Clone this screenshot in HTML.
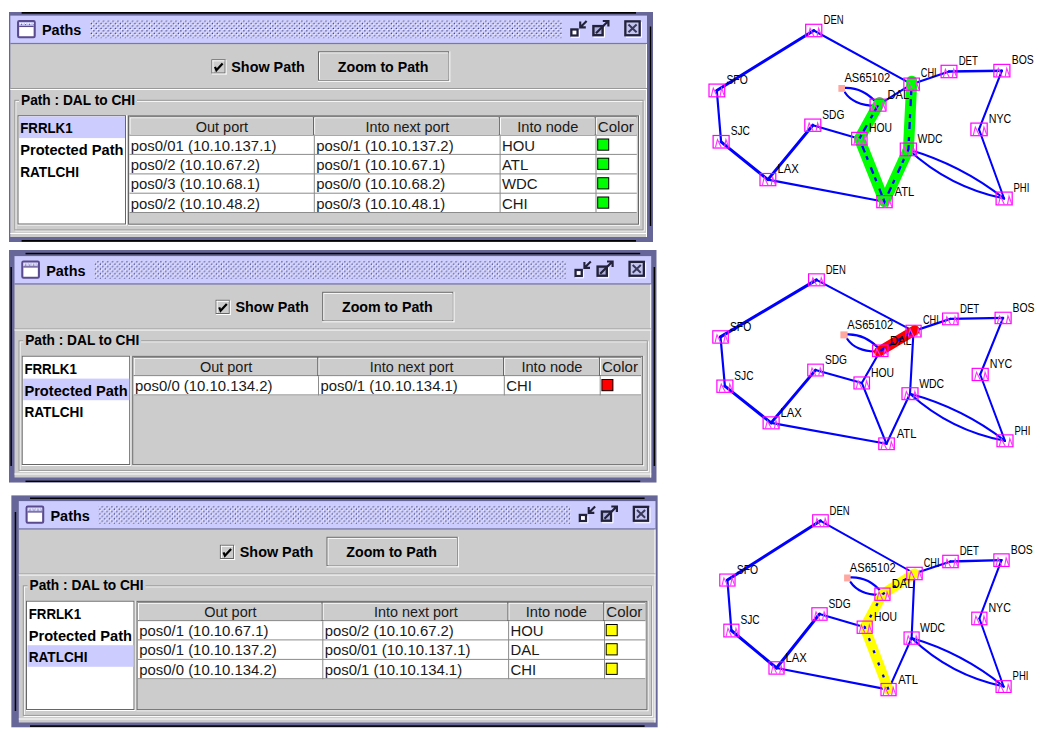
<!DOCTYPE html>
<html><head><meta charset="utf-8"><title>Paths</title><style>html,body{margin:0;padding:0;background:#fff;width:1038px;height:734px;overflow:hidden}svg{display:block;font-family:"Liberation Sans", sans-serif}</style></head><body>
<svg width="1038" height="734" viewBox="0 0 1038 734">
<defs><pattern id="bumps" patternUnits="userSpaceOnUse" width="4.84" height="4.84"><rect width="4.84" height="4.84" fill="#ccccff"/><rect x="0" y="0" width="1.21" height="1.21" fill="#ffffff"/><rect x="2.42" y="2.42" width="1.21" height="1.21" fill="#ffffff"/><rect x="1.21" y="1.21" width="1.21" height="1.21" fill="#333366"/><rect x="3.63" y="3.63" width="1.21" height="1.21" fill="#333366"/></pattern><g id="node"><rect x="0.6" y="0.6" width="15.8" height="12.8" fill="none" stroke="#ff00ff" stroke-width="1.2"/><path d="M3 12.8 L4.1 7.8 L4.9 4.7 L8.7 12.9 M11.8 12.8 L13.3 4.7 L15.9 12.2" fill="none" stroke="#ff33ff" stroke-width="1.1"/></g></defs>
<clipPath id="clip0"><rect x="9" y="11.9" width="644" height="230.1"/></clipPath>
<g clip-path="url(#clip0)">
<rect x="9.00" y="11.90" width="644.00" height="230.10" fill="#666699" />
<g transform="translate(0,0)">
<rect x="10.30" y="43.00" width="636.70" height="194.00" fill="#cccccc" />
<rect x="10.30" y="15.60" width="636.70" height="27.40" fill="#ccccff" />
<rect x="10.30" y="42.90" width="636.70" height="1.20" fill="#7777aa" />
<rect x="10.30" y="233.00" width="636.70" height="1.00" fill="#ffffff" />
<rect x="646.00" y="44.00" width="1.00" height="193.00" fill="#ffffff" />
<rect x="18.1" y="21.1" width="16.6" height="16.1" rx="1.2" fill="#ffffff" stroke="#5a4a8e" stroke-width="2.1"/>
<rect x="19.10" y="22.10" width="14.60" height="3.60" fill="#c4c4ee" />
<line x1="19.700000000000003" y1="23.5" x2="33.5" y2="23.5" stroke="#ffffff" stroke-width="1.1" stroke-dasharray="1.3 1.3"/>
<line x1="21.0" y1="24.6" x2="33.5" y2="24.6" stroke="#6a5aa0" stroke-width="1" stroke-dasharray="1 3"/>
<rect x="19.10" y="25.75" width="14.60" height="1.30" fill="#5a4a8e" />
<text x="42.00" y="35.20" font-size="14.5" font-weight="bold" text-anchor="start" fill="#000" textLength="39.30" lengthAdjust="spacingAndGlyphs" >Paths</text>
<rect x="90" y="20.2" width="472" height="18" fill="url(#bumps)"/>
<g fill="none" stroke="#22223a" stroke-width="2.3"><rect x="571.35" y="29.45" width="6.2" height="6.1" fill="#ffffff"/><path d="M580.2 21.6 V27.4 H585.8 M580.6 27 L586.6 20.9" stroke-width="2.1"/></g>
<path d="M571 37.3 H579.4 V30" fill="none" stroke="#ffffff" stroke-width="1"/>
<g fill="none" stroke="#22223a" stroke-width="2.4"><rect x="593.4" y="26.1" width="9.2" height="9.1" fill="#b0b0e0"/><path d="M596 33.2 L608 21.2 M602.8 21 H608.4 V26.4" stroke-width="2.2"/></g>
<path d="M593.5 37.3 H604.5 V27" fill="none" stroke="#ffffff" stroke-width="1"/>
<g fill="none" stroke="#22223a" stroke-width="2.3"><rect x="625.35" y="21.35" width="14.3" height="13.9" fill="#c4c4f0"/><path d="M628.5 24.5 L636.6 32.2 M636.6 24.5 L628.5 32.2" stroke="#3a3a5c" stroke-width="2"/></g>
<path d="M626 37.3 H641.5 V22" fill="none" stroke="#ffffff" stroke-width="1"/>
<rect x="211.40" y="59.30" width="14.20" height="14.20" fill="#666666" />
<rect x="212.40" y="60.30" width="12.20" height="12.20" fill="#cccccc" />
<rect x="212.40" y="60.30" width="12.20" height="1.00" fill="#ffffff" />
<rect x="212.40" y="60.30" width="1.00" height="12.20" fill="#ffffff" />
<rect x="211.90" y="73.50" width="14.70" height="1.00" fill="#ffffff" />
<rect x="225.60" y="60.00" width="1.00" height="14.50" fill="#ffffff" />
<path d="M215 66.8 L216.4 70.2 L222.6 63.4" fill="none" stroke="#000" stroke-width="2.2"/>
<text x="231.30" y="71.80" font-size="14.5" font-weight="bold" text-anchor="start" fill="#000" textLength="73.40" lengthAdjust="spacingAndGlyphs" >Show Path</text>
<rect x="318.00" y="51.30" width="131.30" height="29.50" fill="#666666" />
<rect x="319.00" y="52.30" width="129.30" height="27.50" fill="#ffffff" />
<rect x="320.00" y="53.30" width="128.30" height="26.50" fill="#cccccc" />
<rect x="318.00" y="80.80" width="132.30" height="1.00" fill="#ffffff" />
<rect x="449.30" y="51.30" width="1.00" height="30.50" fill="#ffffff" />
<text x="337.80" y="71.60" font-size="14.5" font-weight="bold" text-anchor="start" fill="#000" textLength="90.70" lengthAdjust="spacingAndGlyphs" >Zoom to Path</text>
<rect x="10.30" y="88.00" width="636.70" height="1.00" fill="#999999" />
<rect x="10.30" y="89.00" width="636.70" height="1.00" fill="#ffffff" />
<rect x="15.8" y="101.3" width="628.3000000000001" height="129.60000000000002" fill="none" stroke="#ffffff" stroke-width="1"/>
<rect x="14.8" y="100.3" width="628.3000000000001" height="129.60000000000002" fill="none" stroke="#999999" stroke-width="1"/>
<rect x="19.00" y="93.00" width="118.00" height="13.00" fill="#cccccc" />
<text x="21.00" y="104.90" font-size="14.5" font-weight="bold" text-anchor="start" fill="#000" textLength="114.00" lengthAdjust="spacingAndGlyphs" >Path : DAL to CHI</text>
<rect x="17.50" y="115.20" width="109.50" height="110.30" fill="#ffffff" />
<rect x="17.50" y="115.20" width="108.50" height="109.30" fill="#666666" />
<rect x="18.50" y="116.20" width="106.50" height="107.30" fill="#ffffff" />
<rect x="19.00" y="116.50" width="106.00" height="21.60" fill="#ccccff" />
<text x="20.20" y="133.40" font-size="14.5" font-weight="bold" text-anchor="start" fill="#000" textLength="52.40" lengthAdjust="spacingAndGlyphs" >FRRLK1</text>
<text x="20.20" y="155.00" font-size="14.5" font-weight="bold" text-anchor="start" fill="#000" textLength="103.30" lengthAdjust="spacingAndGlyphs" >Protected Path</text>
<text x="20.20" y="176.60" font-size="14.5" font-weight="bold" text-anchor="start" fill="#000" textLength="58.80" lengthAdjust="spacingAndGlyphs" >RATLCHI</text>
<rect x="128.00" y="115.30" width="512.00" height="110.40" fill="#ffffff" />
<rect x="128.00" y="115.30" width="511.00" height="109.40" fill="#666666" />
<rect x="129.00" y="116.30" width="509.00" height="107.40" fill="#cccccc" />
<rect x="129.50" y="116.40" width="507.30" height="19.30" fill="#666666" />
<rect x="129.50" y="117.20" width="183.40" height="17.50" fill="#ffffff" />
<rect x="130.50" y="118.20" width="182.40" height="16.50" fill="#cccccc" />
<text x="195.70" y="131.50" font-size="14.5" font-weight="normal" text-anchor="start" fill="#1a1a1a" textLength="52.40" lengthAdjust="spacingAndGlyphs" >Out port</text>
<rect x="314.10" y="117.20" width="184.60" height="17.50" fill="#ffffff" />
<rect x="315.10" y="118.20" width="183.60" height="16.50" fill="#cccccc" />
<text x="365.50" y="131.50" font-size="14.5" font-weight="normal" text-anchor="start" fill="#1a1a1a" textLength="83.80" lengthAdjust="spacingAndGlyphs" >Into next port</text>
<rect x="499.90" y="117.20" width="94.70" height="17.50" fill="#ffffff" />
<rect x="500.90" y="118.20" width="93.70" height="16.50" fill="#cccccc" />
<text x="517.20" y="131.50" font-size="14.5" font-weight="normal" text-anchor="start" fill="#1a1a1a" textLength="61.10" lengthAdjust="spacingAndGlyphs" >Into node</text>
<rect x="595.80" y="117.20" width="40.80" height="17.50" fill="#ffffff" />
<rect x="596.80" y="118.20" width="39.80" height="16.50" fill="#cccccc" />
<text x="597.80" y="131.50" font-size="14.5" font-weight="normal" text-anchor="start" fill="#1a1a1a" textLength="36.00" lengthAdjust="spacingAndGlyphs" >Color</text>
<rect x="129.50" y="135.70" width="507.30" height="77.30" fill="#ffffff" />
<rect x="129.50" y="153.90" width="507.30" height="1.00" fill="#8c8c8c" />
<text x="130.80" y="150.50" font-size="14.9" font-weight="normal" text-anchor="start" fill="#1a1a1a" >pos0/01 (10.10.137.1)</text>
<text x="316.20" y="150.50" font-size="14.9" font-weight="normal" text-anchor="start" fill="#1a1a1a" >pos0/1 (10.10.137.2)</text>
<text x="502.00" y="150.50" font-size="14.9" font-weight="normal" text-anchor="start" fill="#1a1a1a" >HOU</text>
<rect x="597.20" y="138.50" width="12.00" height="12.20" fill="#000" />
<rect x="598.20" y="139.50" width="10.00" height="10.20" fill="#00ff00" />
<rect x="129.50" y="173.40" width="507.30" height="1.00" fill="#8c8c8c" />
<text x="130.80" y="169.70" font-size="14.9" font-weight="normal" text-anchor="start" fill="#1a1a1a" >pos0/2 (10.10.67.2)</text>
<text x="316.20" y="169.70" font-size="14.9" font-weight="normal" text-anchor="start" fill="#1a1a1a" >pos0/1 (10.10.67.1)</text>
<text x="502.00" y="169.70" font-size="14.9" font-weight="normal" text-anchor="start" fill="#1a1a1a" >ATL</text>
<rect x="597.20" y="157.70" width="12.00" height="12.20" fill="#000" />
<rect x="598.20" y="158.70" width="10.00" height="10.20" fill="#00ff00" />
<rect x="129.50" y="192.70" width="507.30" height="1.00" fill="#8c8c8c" />
<text x="130.80" y="189.20" font-size="14.9" font-weight="normal" text-anchor="start" fill="#1a1a1a" >pos0/3 (10.10.68.1)</text>
<text x="316.20" y="189.20" font-size="14.9" font-weight="normal" text-anchor="start" fill="#1a1a1a" >pos0/0 (10.10.68.2)</text>
<text x="502.00" y="189.20" font-size="14.9" font-weight="normal" text-anchor="start" fill="#1a1a1a" >WDC</text>
<rect x="597.20" y="177.20" width="12.00" height="12.20" fill="#000" />
<rect x="598.20" y="178.20" width="10.00" height="10.20" fill="#00ff00" />
<rect x="129.50" y="212.00" width="507.30" height="1.00" fill="#8c8c8c" />
<text x="130.80" y="208.50" font-size="14.9" font-weight="normal" text-anchor="start" fill="#1a1a1a" >pos0/2 (10.10.48.2)</text>
<text x="316.20" y="208.50" font-size="14.9" font-weight="normal" text-anchor="start" fill="#1a1a1a" >pos0/3 (10.10.48.1)</text>
<text x="502.00" y="208.50" font-size="14.9" font-weight="normal" text-anchor="start" fill="#1a1a1a" >CHI</text>
<rect x="597.20" y="196.50" width="12.00" height="12.20" fill="#000" />
<rect x="598.20" y="197.50" width="10.00" height="10.20" fill="#00ff00" />
<rect x="313.80" y="135.70" width="1.00" height="77.30" fill="#8c8c8c" />
<rect x="499.60" y="135.70" width="1.00" height="77.30" fill="#8c8c8c" />
<rect x="595.50" y="135.70" width="1.00" height="77.30" fill="#8c8c8c" />
</g>
<rect x="21.60" y="11.90" width="614.40" height="1.80" fill="#000000" />
<rect x="649.80" y="26.50" width="1.40" height="199.50" fill="#000000" />
<rect x="21.60" y="240.00" width="614.40" height="1.70" fill="#000000" />
</g>
<clipPath id="clip240"><rect x="9" y="250" width="647.7" height="232.7"/></clipPath>
<g clip-path="url(#clip240)">
<rect x="9.00" y="250.00" width="647.70" height="232.70" fill="#666699" />
<g transform="translate(4.2,240.5)">
<rect x="10.30" y="43.00" width="636.70" height="194.00" fill="#cccccc" />
<rect x="10.30" y="15.60" width="636.70" height="27.40" fill="#ccccff" />
<rect x="10.30" y="42.90" width="636.70" height="1.20" fill="#7777aa" />
<rect x="10.30" y="233.00" width="636.70" height="1.00" fill="#ffffff" />
<rect x="646.00" y="44.00" width="1.00" height="193.00" fill="#ffffff" />
<rect x="18.1" y="21.1" width="16.6" height="16.1" rx="1.2" fill="#ffffff" stroke="#5a4a8e" stroke-width="2.1"/>
<rect x="19.10" y="22.10" width="14.60" height="3.60" fill="#c4c4ee" />
<line x1="19.700000000000003" y1="23.5" x2="33.5" y2="23.5" stroke="#ffffff" stroke-width="1.1" stroke-dasharray="1.3 1.3"/>
<line x1="21.0" y1="24.6" x2="33.5" y2="24.6" stroke="#6a5aa0" stroke-width="1" stroke-dasharray="1 3"/>
<rect x="19.10" y="25.75" width="14.60" height="1.30" fill="#5a4a8e" />
<text x="42.00" y="35.20" font-size="14.5" font-weight="bold" text-anchor="start" fill="#000" textLength="39.30" lengthAdjust="spacingAndGlyphs" >Paths</text>
<rect x="90" y="20.2" width="472" height="18" fill="url(#bumps)"/>
<g fill="none" stroke="#22223a" stroke-width="2.3"><rect x="571.35" y="29.45" width="6.2" height="6.1" fill="#ffffff"/><path d="M580.2 21.6 V27.4 H585.8 M580.6 27 L586.6 20.9" stroke-width="2.1"/></g>
<path d="M571 37.3 H579.4 V30" fill="none" stroke="#ffffff" stroke-width="1"/>
<g fill="none" stroke="#22223a" stroke-width="2.4"><rect x="593.4" y="26.1" width="9.2" height="9.1" fill="#b0b0e0"/><path d="M596 33.2 L608 21.2 M602.8 21 H608.4 V26.4" stroke-width="2.2"/></g>
<path d="M593.5 37.3 H604.5 V27" fill="none" stroke="#ffffff" stroke-width="1"/>
<g fill="none" stroke="#22223a" stroke-width="2.3"><rect x="625.35" y="21.35" width="14.3" height="13.9" fill="#c4c4f0"/><path d="M628.5 24.5 L636.6 32.2 M636.6 24.5 L628.5 32.2" stroke="#3a3a5c" stroke-width="2"/></g>
<path d="M626 37.3 H641.5 V22" fill="none" stroke="#ffffff" stroke-width="1"/>
<rect x="211.40" y="59.30" width="14.20" height="14.20" fill="#666666" />
<rect x="212.40" y="60.30" width="12.20" height="12.20" fill="#cccccc" />
<rect x="212.40" y="60.30" width="12.20" height="1.00" fill="#ffffff" />
<rect x="212.40" y="60.30" width="1.00" height="12.20" fill="#ffffff" />
<rect x="211.90" y="73.50" width="14.70" height="1.00" fill="#ffffff" />
<rect x="225.60" y="60.00" width="1.00" height="14.50" fill="#ffffff" />
<path d="M215 66.8 L216.4 70.2 L222.6 63.4" fill="none" stroke="#000" stroke-width="2.2"/>
<text x="231.30" y="71.80" font-size="14.5" font-weight="bold" text-anchor="start" fill="#000" textLength="73.40" lengthAdjust="spacingAndGlyphs" >Show Path</text>
<rect x="318.00" y="51.30" width="131.30" height="29.50" fill="#666666" />
<rect x="319.00" y="52.30" width="129.30" height="27.50" fill="#ffffff" />
<rect x="320.00" y="53.30" width="128.30" height="26.50" fill="#cccccc" />
<rect x="318.00" y="80.80" width="132.30" height="1.00" fill="#ffffff" />
<rect x="449.30" y="51.30" width="1.00" height="30.50" fill="#ffffff" />
<text x="337.80" y="71.60" font-size="14.5" font-weight="bold" text-anchor="start" fill="#000" textLength="90.70" lengthAdjust="spacingAndGlyphs" >Zoom to Path</text>
<rect x="10.30" y="88.00" width="636.70" height="1.00" fill="#999999" />
<rect x="10.30" y="89.00" width="636.70" height="1.00" fill="#ffffff" />
<rect x="15.8" y="101.3" width="628.3000000000001" height="129.60000000000002" fill="none" stroke="#ffffff" stroke-width="1"/>
<rect x="14.8" y="100.3" width="628.3000000000001" height="129.60000000000002" fill="none" stroke="#999999" stroke-width="1"/>
<rect x="19.00" y="93.00" width="118.00" height="13.00" fill="#cccccc" />
<text x="21.00" y="104.90" font-size="14.5" font-weight="bold" text-anchor="start" fill="#000" textLength="114.00" lengthAdjust="spacingAndGlyphs" >Path : DAL to CHI</text>
<rect x="17.50" y="115.20" width="109.50" height="110.30" fill="#ffffff" />
<rect x="17.50" y="115.20" width="108.50" height="109.30" fill="#666666" />
<rect x="18.50" y="116.20" width="106.50" height="107.30" fill="#ffffff" />
<rect x="19.00" y="138.10" width="106.00" height="21.60" fill="#ccccff" />
<text x="20.20" y="133.40" font-size="14.5" font-weight="bold" text-anchor="start" fill="#000" textLength="52.40" lengthAdjust="spacingAndGlyphs" >FRRLK1</text>
<text x="20.20" y="155.00" font-size="14.5" font-weight="bold" text-anchor="start" fill="#000" textLength="103.30" lengthAdjust="spacingAndGlyphs" >Protected Path</text>
<text x="20.20" y="176.60" font-size="14.5" font-weight="bold" text-anchor="start" fill="#000" textLength="58.80" lengthAdjust="spacingAndGlyphs" >RATLCHI</text>
<rect x="128.00" y="115.30" width="512.00" height="110.40" fill="#ffffff" />
<rect x="128.00" y="115.30" width="511.00" height="109.40" fill="#666666" />
<rect x="129.00" y="116.30" width="509.00" height="107.40" fill="#cccccc" />
<rect x="129.50" y="116.40" width="507.30" height="19.30" fill="#666666" />
<rect x="129.50" y="117.20" width="183.40" height="17.50" fill="#ffffff" />
<rect x="130.50" y="118.20" width="182.40" height="16.50" fill="#cccccc" />
<text x="195.70" y="131.50" font-size="14.5" font-weight="normal" text-anchor="start" fill="#1a1a1a" textLength="52.40" lengthAdjust="spacingAndGlyphs" >Out port</text>
<rect x="314.10" y="117.20" width="184.60" height="17.50" fill="#ffffff" />
<rect x="315.10" y="118.20" width="183.60" height="16.50" fill="#cccccc" />
<text x="365.50" y="131.50" font-size="14.5" font-weight="normal" text-anchor="start" fill="#1a1a1a" textLength="83.80" lengthAdjust="spacingAndGlyphs" >Into next port</text>
<rect x="499.90" y="117.20" width="94.70" height="17.50" fill="#ffffff" />
<rect x="500.90" y="118.20" width="93.70" height="16.50" fill="#cccccc" />
<text x="517.20" y="131.50" font-size="14.5" font-weight="normal" text-anchor="start" fill="#1a1a1a" textLength="61.10" lengthAdjust="spacingAndGlyphs" >Into node</text>
<rect x="595.80" y="117.20" width="40.80" height="17.50" fill="#ffffff" />
<rect x="596.80" y="118.20" width="39.80" height="16.50" fill="#cccccc" />
<text x="597.80" y="131.50" font-size="14.5" font-weight="normal" text-anchor="start" fill="#1a1a1a" textLength="36.00" lengthAdjust="spacingAndGlyphs" >Color</text>
<rect x="129.50" y="135.70" width="507.30" height="19.20" fill="#ffffff" />
<rect x="129.50" y="153.90" width="507.30" height="1.00" fill="#8c8c8c" />
<text x="130.80" y="150.50" font-size="14.9" font-weight="normal" text-anchor="start" fill="#1a1a1a" >pos0/0 (10.10.134.2)</text>
<text x="316.20" y="150.50" font-size="14.9" font-weight="normal" text-anchor="start" fill="#1a1a1a" >pos0/1 (10.10.134.1)</text>
<text x="502.00" y="150.50" font-size="14.9" font-weight="normal" text-anchor="start" fill="#1a1a1a" >CHI</text>
<rect x="597.20" y="138.50" width="12.00" height="12.20" fill="#000" />
<rect x="598.20" y="139.50" width="10.00" height="10.20" fill="#ff0000" />
<rect x="313.80" y="135.70" width="1.00" height="19.20" fill="#8c8c8c" />
<rect x="499.60" y="135.70" width="1.00" height="19.20" fill="#8c8c8c" />
<rect x="595.50" y="135.70" width="1.00" height="19.20" fill="#8c8c8c" />
</g>
<rect x="25.50" y="252.80" width="614.70" height="1.50" fill="#000000" />
<rect x="10.40" y="267.00" width="1.50" height="199.00" fill="#000000" />
<rect x="653.60" y="267.00" width="1.50" height="199.00" fill="#000000" />
<rect x="25.50" y="480.60" width="614.70" height="1.50" fill="#000000" />
</g>
<clipPath id="clip485"><rect x="11.2" y="495.2" width="646.5999999999999" height="232.40000000000003"/></clipPath>
<g clip-path="url(#clip485)">
<rect x="11.20" y="495.20" width="646.60" height="232.40" fill="#666699" />
<g transform="translate(8.5,485.5)">
<rect x="10.30" y="43.00" width="636.70" height="194.00" fill="#cccccc" />
<rect x="10.30" y="15.60" width="636.70" height="27.40" fill="#ccccff" />
<rect x="10.30" y="42.90" width="636.70" height="1.20" fill="#7777aa" />
<rect x="10.30" y="233.00" width="636.70" height="1.00" fill="#ffffff" />
<rect x="646.00" y="44.00" width="1.00" height="193.00" fill="#ffffff" />
<rect x="18.1" y="21.1" width="16.6" height="16.1" rx="1.2" fill="#ffffff" stroke="#5a4a8e" stroke-width="2.1"/>
<rect x="19.10" y="22.10" width="14.60" height="3.60" fill="#c4c4ee" />
<line x1="19.700000000000003" y1="23.5" x2="33.5" y2="23.5" stroke="#ffffff" stroke-width="1.1" stroke-dasharray="1.3 1.3"/>
<line x1="21.0" y1="24.6" x2="33.5" y2="24.6" stroke="#6a5aa0" stroke-width="1" stroke-dasharray="1 3"/>
<rect x="19.10" y="25.75" width="14.60" height="1.30" fill="#5a4a8e" />
<text x="42.00" y="35.20" font-size="14.5" font-weight="bold" text-anchor="start" fill="#000" textLength="39.30" lengthAdjust="spacingAndGlyphs" >Paths</text>
<rect x="90" y="20.2" width="472" height="18" fill="url(#bumps)"/>
<g fill="none" stroke="#22223a" stroke-width="2.3"><rect x="571.35" y="29.45" width="6.2" height="6.1" fill="#ffffff"/><path d="M580.2 21.6 V27.4 H585.8 M580.6 27 L586.6 20.9" stroke-width="2.1"/></g>
<path d="M571 37.3 H579.4 V30" fill="none" stroke="#ffffff" stroke-width="1"/>
<g fill="none" stroke="#22223a" stroke-width="2.4"><rect x="593.4" y="26.1" width="9.2" height="9.1" fill="#b0b0e0"/><path d="M596 33.2 L608 21.2 M602.8 21 H608.4 V26.4" stroke-width="2.2"/></g>
<path d="M593.5 37.3 H604.5 V27" fill="none" stroke="#ffffff" stroke-width="1"/>
<g fill="none" stroke="#22223a" stroke-width="2.3"><rect x="625.35" y="21.35" width="14.3" height="13.9" fill="#c4c4f0"/><path d="M628.5 24.5 L636.6 32.2 M636.6 24.5 L628.5 32.2" stroke="#3a3a5c" stroke-width="2"/></g>
<path d="M626 37.3 H641.5 V22" fill="none" stroke="#ffffff" stroke-width="1"/>
<rect x="211.40" y="59.30" width="14.20" height="14.20" fill="#666666" />
<rect x="212.40" y="60.30" width="12.20" height="12.20" fill="#cccccc" />
<rect x="212.40" y="60.30" width="12.20" height="1.00" fill="#ffffff" />
<rect x="212.40" y="60.30" width="1.00" height="12.20" fill="#ffffff" />
<rect x="211.90" y="73.50" width="14.70" height="1.00" fill="#ffffff" />
<rect x="225.60" y="60.00" width="1.00" height="14.50" fill="#ffffff" />
<path d="M215 66.8 L216.4 70.2 L222.6 63.4" fill="none" stroke="#000" stroke-width="2.2"/>
<text x="231.30" y="71.80" font-size="14.5" font-weight="bold" text-anchor="start" fill="#000" textLength="73.40" lengthAdjust="spacingAndGlyphs" >Show Path</text>
<rect x="318.00" y="51.30" width="131.30" height="29.50" fill="#666666" />
<rect x="319.00" y="52.30" width="129.30" height="27.50" fill="#ffffff" />
<rect x="320.00" y="53.30" width="128.30" height="26.50" fill="#cccccc" />
<rect x="318.00" y="80.80" width="132.30" height="1.00" fill="#ffffff" />
<rect x="449.30" y="51.30" width="1.00" height="30.50" fill="#ffffff" />
<text x="337.80" y="71.60" font-size="14.5" font-weight="bold" text-anchor="start" fill="#000" textLength="90.70" lengthAdjust="spacingAndGlyphs" >Zoom to Path</text>
<rect x="10.30" y="88.00" width="636.70" height="1.00" fill="#999999" />
<rect x="10.30" y="89.00" width="636.70" height="1.00" fill="#ffffff" />
<rect x="15.8" y="101.3" width="628.3000000000001" height="129.60000000000002" fill="none" stroke="#ffffff" stroke-width="1"/>
<rect x="14.8" y="100.3" width="628.3000000000001" height="129.60000000000002" fill="none" stroke="#999999" stroke-width="1"/>
<rect x="19.00" y="93.00" width="118.00" height="13.00" fill="#cccccc" />
<text x="21.00" y="104.90" font-size="14.5" font-weight="bold" text-anchor="start" fill="#000" textLength="114.00" lengthAdjust="spacingAndGlyphs" >Path : DAL to CHI</text>
<rect x="17.50" y="115.20" width="109.50" height="110.30" fill="#ffffff" />
<rect x="17.50" y="115.20" width="108.50" height="109.30" fill="#666666" />
<rect x="18.50" y="116.20" width="106.50" height="107.30" fill="#ffffff" />
<rect x="19.00" y="159.70" width="106.00" height="21.60" fill="#ccccff" />
<text x="20.20" y="133.40" font-size="14.5" font-weight="bold" text-anchor="start" fill="#000" textLength="52.40" lengthAdjust="spacingAndGlyphs" >FRRLK1</text>
<text x="20.20" y="155.00" font-size="14.5" font-weight="bold" text-anchor="start" fill="#000" textLength="103.30" lengthAdjust="spacingAndGlyphs" >Protected Path</text>
<text x="20.20" y="176.60" font-size="14.5" font-weight="bold" text-anchor="start" fill="#000" textLength="58.80" lengthAdjust="spacingAndGlyphs" >RATLCHI</text>
<rect x="128.00" y="115.30" width="512.00" height="110.40" fill="#ffffff" />
<rect x="128.00" y="115.30" width="511.00" height="109.40" fill="#666666" />
<rect x="129.00" y="116.30" width="509.00" height="107.40" fill="#cccccc" />
<rect x="129.50" y="116.40" width="507.30" height="19.30" fill="#666666" />
<rect x="129.50" y="117.20" width="183.40" height="17.50" fill="#ffffff" />
<rect x="130.50" y="118.20" width="182.40" height="16.50" fill="#cccccc" />
<text x="195.70" y="131.50" font-size="14.5" font-weight="normal" text-anchor="start" fill="#1a1a1a" textLength="52.40" lengthAdjust="spacingAndGlyphs" >Out port</text>
<rect x="314.10" y="117.20" width="184.60" height="17.50" fill="#ffffff" />
<rect x="315.10" y="118.20" width="183.60" height="16.50" fill="#cccccc" />
<text x="365.50" y="131.50" font-size="14.5" font-weight="normal" text-anchor="start" fill="#1a1a1a" textLength="83.80" lengthAdjust="spacingAndGlyphs" >Into next port</text>
<rect x="499.90" y="117.20" width="94.70" height="17.50" fill="#ffffff" />
<rect x="500.90" y="118.20" width="93.70" height="16.50" fill="#cccccc" />
<text x="517.20" y="131.50" font-size="14.5" font-weight="normal" text-anchor="start" fill="#1a1a1a" textLength="61.10" lengthAdjust="spacingAndGlyphs" >Into node</text>
<rect x="595.80" y="117.20" width="40.80" height="17.50" fill="#ffffff" />
<rect x="596.80" y="118.20" width="39.80" height="16.50" fill="#cccccc" />
<text x="597.80" y="131.50" font-size="14.5" font-weight="normal" text-anchor="start" fill="#1a1a1a" textLength="36.00" lengthAdjust="spacingAndGlyphs" >Color</text>
<rect x="129.50" y="135.70" width="507.30" height="58.00" fill="#ffffff" />
<rect x="129.50" y="153.90" width="507.30" height="1.00" fill="#8c8c8c" />
<text x="130.80" y="150.50" font-size="14.9" font-weight="normal" text-anchor="start" fill="#1a1a1a" >pos0/1 (10.10.67.1)</text>
<text x="316.20" y="150.50" font-size="14.9" font-weight="normal" text-anchor="start" fill="#1a1a1a" >pos0/2 (10.10.67.2)</text>
<text x="502.00" y="150.50" font-size="14.9" font-weight="normal" text-anchor="start" fill="#1a1a1a" >HOU</text>
<rect x="597.20" y="138.50" width="12.00" height="12.20" fill="#000" />
<rect x="598.20" y="139.50" width="10.00" height="10.20" fill="#ffff00" />
<rect x="129.50" y="173.40" width="507.30" height="1.00" fill="#8c8c8c" />
<text x="130.80" y="169.70" font-size="14.9" font-weight="normal" text-anchor="start" fill="#1a1a1a" >pos0/1 (10.10.137.2)</text>
<text x="316.20" y="169.70" font-size="14.9" font-weight="normal" text-anchor="start" fill="#1a1a1a" >pos0/01 (10.10.137.1)</text>
<text x="502.00" y="169.70" font-size="14.9" font-weight="normal" text-anchor="start" fill="#1a1a1a" >DAL</text>
<rect x="597.20" y="157.70" width="12.00" height="12.20" fill="#000" />
<rect x="598.20" y="158.70" width="10.00" height="10.20" fill="#ffff00" />
<rect x="129.50" y="192.70" width="507.30" height="1.00" fill="#8c8c8c" />
<text x="130.80" y="189.20" font-size="14.9" font-weight="normal" text-anchor="start" fill="#1a1a1a" >pos0/0 (10.10.134.2)</text>
<text x="316.20" y="189.20" font-size="14.9" font-weight="normal" text-anchor="start" fill="#1a1a1a" >pos0/1 (10.10.134.1)</text>
<text x="502.00" y="189.20" font-size="14.9" font-weight="normal" text-anchor="start" fill="#1a1a1a" >CHI</text>
<rect x="597.20" y="177.20" width="12.00" height="12.20" fill="#000" />
<rect x="598.20" y="178.20" width="10.00" height="10.20" fill="#ffff00" />
<rect x="313.80" y="135.70" width="1.00" height="58.00" fill="#8c8c8c" />
<rect x="499.60" y="135.70" width="1.00" height="58.00" fill="#8c8c8c" />
<rect x="595.50" y="135.70" width="1.00" height="58.00" fill="#8c8c8c" />
</g>
<rect x="30.00" y="497.50" width="614.60" height="1.50" fill="#000000" />
<rect x="14.70" y="512.00" width="1.50" height="199.00" fill="#000000" />
<rect x="30.00" y="725.30" width="614.60" height="1.60" fill="#000000" />
</g>
<g fill="none" stroke="#0000ff" stroke-linecap="round">
<path d="M716.8 90.5 L813.8 30.5" stroke-width="3.0"/>
<path d="M813.8 30.5 L911.6 84.2" stroke-width="2.0"/>
<path d="M716.8 90.5 L721.1 141.8" stroke-width="2.2"/>
<path d="M721.1 141.8 L767.9 179.6" stroke-width="3.0"/>
<path d="M767.9 179.6 L812.8 125.2" stroke-width="3.0"/>
<path d="M767.9 179.6 L884.5 201.7" stroke-width="2.1"/>
<path d="M812.8 125.2 L859.4 138.7" stroke-width="2.1"/>
<path d="M859.4 138.7 L878.0 105.2" stroke-width="2.1"/>
<path d="M859.4 138.7 L884.5 201.7" stroke-width="2.1"/>
<path d="M878.0 105.2 L911.6 84.2" stroke-width="2.0"/>
<path d="M911.6 84.2 L949.0 71.5" stroke-width="2.2"/>
<path d="M949.0 71.5 L1001.9 70.7" stroke-width="2.4"/>
<path d="M1001.9 70.7 L979.0 129.4" stroke-width="2.1"/>
<path d="M979.0 129.4 L1004.1 198.5" stroke-width="2.0"/>
<path d="M911.6 84.2 L908.4 149.4" stroke-width="2.1"/>
<path d="M908.4 149.4 L884.5 201.7" stroke-width="2.1"/>
<path d="M845.2 87.8 C855.2 87.5 865.7 90.4 877.0 103.2" stroke-width="2.2"/>
<path d="M845.0 92.5 C849.7 99.9 860.2 105.8 876.0 105.8" stroke-width="2.2"/>
<path d="M908.4 149.4 Q961.0 164.6 1004.1 198.5" stroke-width="2.1"/>
<path d="M908.4 149.4 Q949.4 187.3 1004.1 198.5" stroke-width="2.1"/>
</g>
<path d="M879.5 102.5 L859.4 138.7 L884.5 201.7 L908.4 149.4 L911.8 81.2" fill="none" stroke="#00ff00" stroke-width="11" stroke-linejoin="round" stroke-linecap="round"/>
<path d="M878.0 105.2 L859.4 138.7 L884.5 201.7 L908.4 149.4 L911.6 84.2" fill="none" stroke="#0000ff" stroke-width="2.3" stroke-dasharray="7 4 4 8"/>
<g transform="translate(805.10,23.70)"><use href="#node" transform="scale(1.018,0.971)"/></g>
<g transform="translate(708.40,83.50)"><use href="#node" transform="scale(0.994,0.993)"/></g>
<g transform="translate(712.50,134.90)"><use href="#node" transform="scale(1.012,0.979)"/></g>
<g transform="translate(759.40,172.90)"><use href="#node" transform="scale(1.000,0.957)"/></g>
<g transform="translate(804.20,118.50)"><use href="#node" transform="scale(1.012,0.957)"/></g>
<g transform="translate(851.10,131.80)"><use href="#node" transform="scale(0.971,0.979)"/></g>
<g transform="translate(869.50,98.60)"><use href="#node" transform="scale(1.006,0.936)"/></g>
<g transform="translate(903.30,77.50)"><use href="#node" transform="scale(0.982,0.950)"/></g>
<g transform="translate(940.50,64.70)"><use href="#node" transform="scale(1.000,0.971)"/></g>
<g transform="translate(993.30,63.80)"><use href="#node" transform="scale(1.012,0.979)"/></g>
<g transform="translate(970.30,122.50)"><use href="#node" transform="scale(1.029,0.986)"/></g>
<g transform="translate(899.70,142.50)"><use href="#node" transform="scale(1.018,0.986)"/></g>
<g transform="translate(876.20,195.00)"><use href="#node" transform="scale(0.976,0.950)"/></g>
<g transform="translate(995.50,191.50)"><use href="#node" transform="scale(1.018,1.000)"/></g>
<rect x="838.4" y="85.0" width="6.6" height="6.8" fill="#ffa8a0"/>
<text x="823.60" y="24.20" font-size="12" font-weight="normal" text-anchor="start" fill="#000" textLength="20.10" lengthAdjust="spacingAndGlyphs" >DEN</text>
<text x="726.40" y="84.30" font-size="12" font-weight="normal" text-anchor="start" fill="#000" textLength="21.30" lengthAdjust="spacingAndGlyphs" >SFO</text>
<text x="730.70" y="135.40" font-size="12" font-weight="normal" text-anchor="start" fill="#000" textLength="19.20" lengthAdjust="spacingAndGlyphs" >SJC</text>
<text x="777.40" y="173.40" font-size="12" font-weight="normal" text-anchor="start" fill="#000" textLength="21.30" lengthAdjust="spacingAndGlyphs" >LAX</text>
<text x="822.30" y="118.80" font-size="12" font-weight="normal" text-anchor="start" fill="#000" textLength="22.10" lengthAdjust="spacingAndGlyphs" >SDG</text>
<text x="869.00" y="131.80" font-size="12" font-weight="normal" text-anchor="start" fill="#000" textLength="23.00" lengthAdjust="spacingAndGlyphs" >HOU</text>
<text x="887.40" y="99.00" font-size="12" font-weight="normal" text-anchor="start" fill="#000" textLength="21.70" lengthAdjust="spacingAndGlyphs" >DAL</text>
<text x="920.80" y="77.20" font-size="12" font-weight="normal" text-anchor="start" fill="#000" textLength="15.80" lengthAdjust="spacingAndGlyphs" >CHI</text>
<text x="958.70" y="65.30" font-size="12" font-weight="normal" text-anchor="start" fill="#000" textLength="19.20" lengthAdjust="spacingAndGlyphs" >DET</text>
<text x="1011.70" y="64.20" font-size="12" font-weight="normal" text-anchor="start" fill="#000" textLength="22.00" lengthAdjust="spacingAndGlyphs" >BOS</text>
<text x="988.70" y="123.00" font-size="12" font-weight="normal" text-anchor="start" fill="#000" textLength="22.50" lengthAdjust="spacingAndGlyphs" >NYC</text>
<text x="917.50" y="143.30" font-size="12" font-weight="normal" text-anchor="start" fill="#000" textLength="25.00" lengthAdjust="spacingAndGlyphs" >WDC</text>
<text x="894.50" y="195.70" font-size="12" font-weight="normal" text-anchor="start" fill="#000" textLength="19.70" lengthAdjust="spacingAndGlyphs" >ATL</text>
<text x="1013.50" y="192.40" font-size="12" font-weight="normal" text-anchor="start" fill="#000" textLength="15.80" lengthAdjust="spacingAndGlyphs" >PHI</text>
<text x="844.40" y="82.00" font-size="12" font-weight="normal" text-anchor="start" fill="#000" textLength="45.80" lengthAdjust="spacingAndGlyphs" >AS65102</text>
<g fill="none" stroke="#0000ff" stroke-linecap="round">
<path d="M720.5 336.9 L816.5 279.9" stroke-width="3.0"/>
<path d="M816.5 279.9 L913.5 331.1" stroke-width="2.0"/>
<path d="M720.5 336.9 L724.9 386.2" stroke-width="2.2"/>
<path d="M724.9 386.2 L771.1 422.9" stroke-width="3.0"/>
<path d="M771.1 422.9 L815.5 370.1" stroke-width="3.0"/>
<path d="M771.1 422.9 L886.5 443.8" stroke-width="2.1"/>
<path d="M815.5 370.1 L861.8 382.9" stroke-width="2.1"/>
<path d="M861.8 382.9 L880.3 350.8" stroke-width="2.1"/>
<path d="M861.8 382.9 L886.5 443.8" stroke-width="2.1"/>
<path d="M880.3 350.8 L913.5 331.1" stroke-width="2.0"/>
<path d="M913.5 331.1 L950.4 318.9" stroke-width="2.2"/>
<path d="M950.4 318.9 L1003.1 317.9" stroke-width="2.4"/>
<path d="M1003.1 317.9 L980.2 374.5" stroke-width="2.1"/>
<path d="M980.2 374.5 L1005.0 440.8" stroke-width="2.0"/>
<path d="M913.5 331.1 L910.0 393.7" stroke-width="2.1"/>
<path d="M910.0 393.7 L886.5 443.8" stroke-width="2.1"/>
<path d="M847.5 334.3 C857.5 334.0 868.0 336.9 879.3 348.8" stroke-width="2.2"/>
<path d="M847.3 339.0 C852.0 346.4 862.5 352.3 878.3 351.4" stroke-width="2.2"/>
<path d="M910.0 393.7 Q962.2 407.8 1005.0 440.8" stroke-width="2.1"/>
<path d="M910.0 393.7 Q950.8 430.7 1005.0 440.8" stroke-width="2.1"/>
</g>
<path d="M879.0 351.6 L914.8 330.3" fill="none" stroke="#ff0000" stroke-width="10" stroke-linejoin="round" stroke-linecap="round"/>
<path d="M880.3 350.8 L913.5 331.1" fill="none" stroke="#0000ff" stroke-width="2.3" stroke-dasharray="6 4"/>
<g transform="translate(808.00,273.30)"><use href="#node" transform="scale(0.994,0.936)"/></g>
<g transform="translate(712.20,330.20)"><use href="#node" transform="scale(0.982,0.964)"/></g>
<g transform="translate(716.30,379.50)"><use href="#node" transform="scale(1.012,0.957)"/></g>
<g transform="translate(762.50,416.30)"><use href="#node" transform="scale(1.012,0.936)"/></g>
<g transform="translate(807.20,363.60)"><use href="#node" transform="scale(0.982,0.921)"/></g>
<g transform="translate(853.40,376.40)"><use href="#node" transform="scale(0.982,0.936)"/></g>
<g transform="translate(872.00,344.50)"><use href="#node" transform="scale(0.976,0.900)"/></g>
<g transform="translate(905.40,324.70)"><use href="#node" transform="scale(0.959,0.914)"/></g>
<g transform="translate(942.00,312.50)"><use href="#node" transform="scale(0.982,0.914)"/></g>
<g transform="translate(994.50,311.70)"><use href="#node" transform="scale(1.012,0.893)"/></g>
<g transform="translate(971.60,367.80)"><use href="#node" transform="scale(1.012,0.950)"/></g>
<g transform="translate(901.40,387.20)"><use href="#node" transform="scale(1.012,0.929)"/></g>
<g transform="translate(878.20,437.40)"><use href="#node" transform="scale(0.982,0.914)"/></g>
<g transform="translate(996.40,434.30)"><use href="#node" transform="scale(1.012,0.929)"/></g>
<rect x="840.4" y="331.4" width="7.2" height="7.0" fill="#ffa8a0"/>
<text x="825.70" y="273.70" font-size="12" font-weight="normal" text-anchor="start" fill="#000" textLength="20.10" lengthAdjust="spacingAndGlyphs" >DEN</text>
<text x="729.90" y="331.00" font-size="12" font-weight="normal" text-anchor="start" fill="#000" textLength="21.30" lengthAdjust="spacingAndGlyphs" >SFO</text>
<text x="734.30" y="380.30" font-size="12" font-weight="normal" text-anchor="start" fill="#000" textLength="19.20" lengthAdjust="spacingAndGlyphs" >SJC</text>
<text x="780.50" y="416.80" font-size="12" font-weight="normal" text-anchor="start" fill="#000" textLength="21.30" lengthAdjust="spacingAndGlyphs" >LAX</text>
<text x="824.90" y="363.90" font-size="12" font-weight="normal" text-anchor="start" fill="#000" textLength="22.10" lengthAdjust="spacingAndGlyphs" >SDG</text>
<text x="871.10" y="376.70" font-size="12" font-weight="normal" text-anchor="start" fill="#000" textLength="23.00" lengthAdjust="spacingAndGlyphs" >HOU</text>
<text x="890.00" y="345.00" font-size="12" font-weight="normal" text-anchor="start" fill="#000" textLength="21.70" lengthAdjust="spacingAndGlyphs" >DAL</text>
<text x="923.00" y="324.20" font-size="12" font-weight="normal" text-anchor="start" fill="#000" textLength="15.80" lengthAdjust="spacingAndGlyphs" >CHI</text>
<text x="960.00" y="312.80" font-size="12" font-weight="normal" text-anchor="start" fill="#000" textLength="19.20" lengthAdjust="spacingAndGlyphs" >DET</text>
<text x="1012.50" y="312.00" font-size="12" font-weight="normal" text-anchor="start" fill="#000" textLength="22.00" lengthAdjust="spacingAndGlyphs" >BOS</text>
<text x="989.70" y="368.20" font-size="12" font-weight="normal" text-anchor="start" fill="#000" textLength="22.50" lengthAdjust="spacingAndGlyphs" >NYC</text>
<text x="919.20" y="387.60" font-size="12" font-weight="normal" text-anchor="start" fill="#000" textLength="25.00" lengthAdjust="spacingAndGlyphs" >WDC</text>
<text x="896.70" y="437.80" font-size="12" font-weight="normal" text-anchor="start" fill="#000" textLength="19.70" lengthAdjust="spacingAndGlyphs" >ATL</text>
<text x="1014.50" y="434.50" font-size="12" font-weight="normal" text-anchor="start" fill="#000" textLength="15.80" lengthAdjust="spacingAndGlyphs" >PHI</text>
<text x="847.30" y="328.60" font-size="12" font-weight="normal" text-anchor="start" fill="#000" textLength="45.80" lengthAdjust="spacingAndGlyphs" >AS65102</text>
<g fill="none" stroke="#0000ff" stroke-linecap="round">
<path d="M727.4 580.0 L820.5 520.8" stroke-width="3.0"/>
<path d="M820.5 520.8 L914.5 573.5" stroke-width="2.0"/>
<path d="M727.4 580.0 L731.4 630.5" stroke-width="2.2"/>
<path d="M731.4 630.5 L776.5 668.0" stroke-width="3.0"/>
<path d="M776.5 668.0 L819.5 614.0" stroke-width="3.0"/>
<path d="M776.5 668.0 L888.5 689.6" stroke-width="2.1"/>
<path d="M819.5 614.0 L864.7 627.2" stroke-width="2.1"/>
<path d="M864.7 627.2 L882.5 594.2" stroke-width="2.1"/>
<path d="M864.7 627.2 L888.5 689.6" stroke-width="2.1"/>
<path d="M882.5 594.2 L914.5 573.5" stroke-width="2.0"/>
<path d="M914.5 573.5 L950.5 561.5" stroke-width="2.2"/>
<path d="M950.5 561.5 L1001.5 560.1" stroke-width="2.4"/>
<path d="M1001.5 560.1 L979.4 618.5" stroke-width="2.1"/>
<path d="M979.4 618.5 L1003.6 686.5" stroke-width="2.0"/>
<path d="M914.5 573.5 L911.6 638.1" stroke-width="2.1"/>
<path d="M911.6 638.1 L888.5 689.6" stroke-width="2.1"/>
<path d="M850.9 577.4 C860.9 577.1 871.4 580.0 881.5 592.2" stroke-width="2.2"/>
<path d="M850.6 582.1 C855.4 589.5 865.9 595.4 880.5 594.8" stroke-width="2.2"/>
<path d="M911.6 638.1 Q962.5 653.0 1003.6 686.5" stroke-width="2.1"/>
<path d="M911.6 638.1 Q950.6 675.6 1003.6 686.5" stroke-width="2.1"/>
</g>
<path d="M888.5 689.6 L864.7 627.2 L882.5 594.2 L914.5 573.5" fill="none" stroke="#ffff00" stroke-width="10.2" stroke-linejoin="round" stroke-linecap="round"/>
<path d="M888.5 689.6 L864.7 627.2 L882.5 594.2 L914.5 573.5" fill="none" stroke="#0000ff" stroke-width="2.3" stroke-dasharray="3 10"/>
<g transform="translate(812.10,514.20)"><use href="#node" transform="scale(0.982,0.936)"/></g>
<g transform="translate(719.20,573.50)"><use href="#node" transform="scale(0.965,0.936)"/></g>
<g transform="translate(723.30,623.60)"><use href="#node" transform="scale(0.953,0.993)"/></g>
<g transform="translate(768.40,661.20)"><use href="#node" transform="scale(0.959,0.964)"/></g>
<g transform="translate(811.30,607.20)"><use href="#node" transform="scale(0.965,0.971)"/></g>
<g transform="translate(856.60,620.50)"><use href="#node" transform="scale(0.953,0.957)"/></g>
<g transform="translate(874.30,587.50)"><use href="#node" transform="scale(0.959,0.957)"/></g>
<g transform="translate(906.20,566.70)"><use href="#node" transform="scale(0.976,0.971)"/></g>
<g transform="translate(942.20,554.70)"><use href="#node" transform="scale(0.976,0.971)"/></g>
<g transform="translate(993.30,553.30)"><use href="#node" transform="scale(0.965,0.979)"/></g>
<g transform="translate(971.20,611.60)"><use href="#node" transform="scale(0.959,0.979)"/></g>
<g transform="translate(903.50,631.40)"><use href="#node" transform="scale(0.953,0.957)"/></g>
<g transform="translate(880.40,682.90)"><use href="#node" transform="scale(0.959,0.957)"/></g>
<g transform="translate(995.50,680.10)"><use href="#node" transform="scale(0.953,0.921)"/></g>
<rect x="844.1" y="574.5" width="6.5" height="6.9" fill="#ffa8a0"/>
<text x="829.60" y="514.60" font-size="12" font-weight="normal" text-anchor="start" fill="#000" textLength="20.10" lengthAdjust="spacingAndGlyphs" >DEN</text>
<text x="736.80" y="573.90" font-size="12" font-weight="normal" text-anchor="start" fill="#000" textLength="21.30" lengthAdjust="spacingAndGlyphs" >SFO</text>
<text x="740.50" y="624.40" font-size="12" font-weight="normal" text-anchor="start" fill="#000" textLength="19.20" lengthAdjust="spacingAndGlyphs" >SJC</text>
<text x="785.60" y="661.70" font-size="12" font-weight="normal" text-anchor="start" fill="#000" textLength="21.30" lengthAdjust="spacingAndGlyphs" >LAX</text>
<text x="828.50" y="607.70" font-size="12" font-weight="normal" text-anchor="start" fill="#000" textLength="22.10" lengthAdjust="spacingAndGlyphs" >SDG</text>
<text x="874.00" y="620.50" font-size="12" font-weight="normal" text-anchor="start" fill="#000" textLength="23.00" lengthAdjust="spacingAndGlyphs" >HOU</text>
<text x="891.80" y="588.10" font-size="12" font-weight="normal" text-anchor="start" fill="#000" textLength="21.70" lengthAdjust="spacingAndGlyphs" >DAL</text>
<text x="923.70" y="566.70" font-size="12" font-weight="normal" text-anchor="start" fill="#000" textLength="15.80" lengthAdjust="spacingAndGlyphs" >CHI</text>
<text x="959.70" y="555.00" font-size="12" font-weight="normal" text-anchor="start" fill="#000" textLength="19.20" lengthAdjust="spacingAndGlyphs" >DET</text>
<text x="1010.80" y="554.20" font-size="12" font-weight="normal" text-anchor="start" fill="#000" textLength="22.00" lengthAdjust="spacingAndGlyphs" >BOS</text>
<text x="988.40" y="612.30" font-size="12" font-weight="normal" text-anchor="start" fill="#000" textLength="22.50" lengthAdjust="spacingAndGlyphs" >NYC</text>
<text x="920.10" y="632.00" font-size="12" font-weight="normal" text-anchor="start" fill="#000" textLength="25.00" lengthAdjust="spacingAndGlyphs" >WDC</text>
<text x="898.20" y="683.50" font-size="12" font-weight="normal" text-anchor="start" fill="#000" textLength="19.70" lengthAdjust="spacingAndGlyphs" >ATL</text>
<text x="1012.60" y="680.30" font-size="12" font-weight="normal" text-anchor="start" fill="#000" textLength="15.80" lengthAdjust="spacingAndGlyphs" >PHI</text>
<text x="849.80" y="571.60" font-size="12" font-weight="normal" text-anchor="start" fill="#000" textLength="45.80" lengthAdjust="spacingAndGlyphs" >AS65102</text>
</svg></body></html>
